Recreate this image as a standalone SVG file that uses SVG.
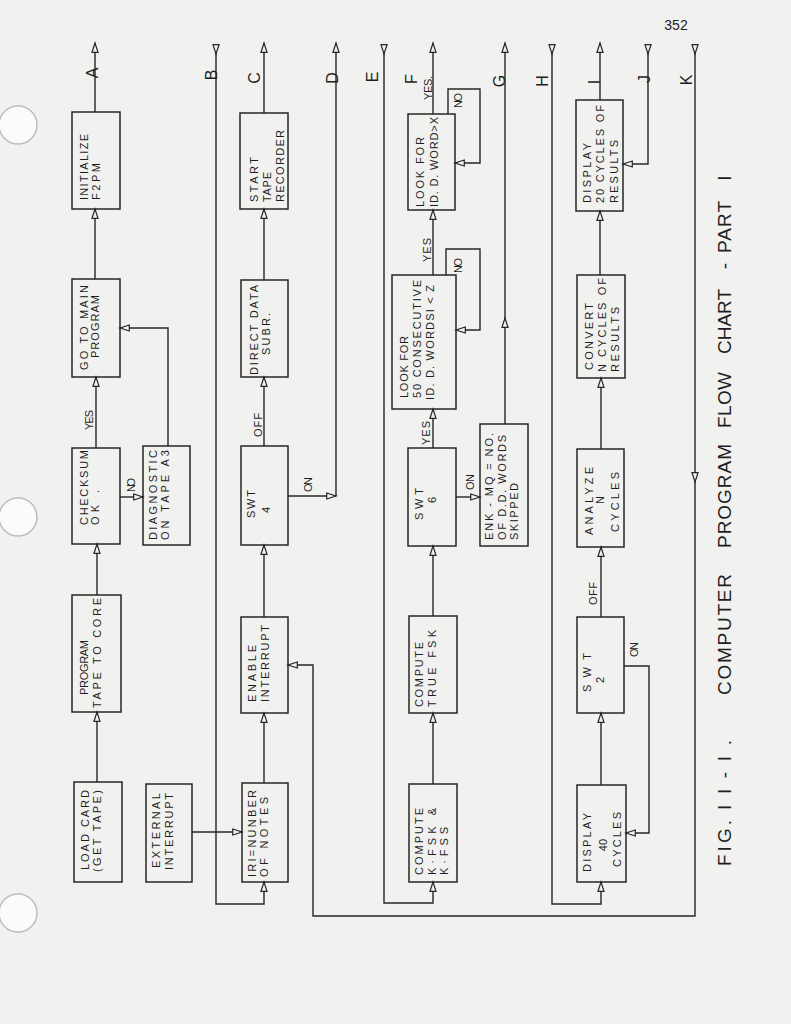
<svg xmlns="http://www.w3.org/2000/svg" width="791" height="1024" viewBox="0 0 791 1024">
<style>
.bg{fill:#f1f1ef}
.box{fill:none;stroke:#262626;stroke-width:1.5}
.ln{fill:none;stroke:#262626;stroke-width:1.4}
.ar{marker-end:url(#ah)}
.t{font-family:"Liberation Sans",Arial,sans-serif;font-size:11px;fill:#1e1e1e}
.lb{font-family:"Liberation Sans",Arial,sans-serif;font-size:11px;fill:#1e1e1e}
.lt{font-family:"Liberation Sans",Arial,sans-serif;font-size:16px;fill:#1e1e1e;text-anchor:middle}
.cap{font-family:"Liberation Sans",Arial,sans-serif;font-size:19px;fill:#1e1e1e}
.m{text-anchor:middle}
.hole{fill:#fbfbfa;stroke:#bdbdbd;stroke-width:1.5}
</style>
<defs>
<marker id="ah" markerUnits="userSpaceOnUse" markerWidth="12" markerHeight="8" refX="10" refY="3.5" orient="auto" overflow="visible"><path d="M0.7,0.5 L10,3.5 L0.7,6.5 Z" fill="#f1f1ef" stroke="#262626" stroke-width="1.2"/></marker>
<marker id="ai" markerUnits="userSpaceOnUse" markerWidth="12" markerHeight="8" refX="0" refY="3.5" orient="auto" overflow="visible"><path d="M0.7,0.5 L10,3.5 L0.7,6.5 Z" fill="#f1f1ef" stroke="#262626" stroke-width="1.2"/></marker>
</defs>
<rect class="bg" x="0" y="0" width="791" height="1024"/>
<circle class="hole" cx="18" cy="125" r="19"/>
<circle class="hole" cx="18" cy="517" r="19"/>
<circle class="hole" cx="18" cy="913" r="19"/>
<text x="676" y="30" style="font-family:'Liberation Sans',Arial,sans-serif;font-size:14px;fill:#222;text-anchor:middle">352</text>

<g id="connectors">
<path class="ln ar" d="M97,782 V712"/>
<path class="ln ar" d="M97,595 V544"/>
<path class="ln ar" d="M96,448 V377"/>
<path class="ln ar" d="M120,497 H143"/>
<path class="ln ar" d="M168,446 V328 H120"/>
<path class="ln ar" d="M95,279 V209"/>
<path class="ln ar" d="M95,112 V43"/>
<path class="ln ar" d="M192,832 H242"/>
<path class="ln ar" d="M216,44 V904 H264 V882" marker-start="url(#ai)"/>
<path class="ln ar" d="M264,783 V713"/>
<path class="ln ar" d="M264,617 V545"/>
<path class="ln ar" d="M264,446 V377"/>
<path class="ln ar" d="M264,280 V209"/>
<path class="ln ar" d="M264,113 V43"/>
<path class="ln ar" d="M288,496 H336"/>
<path class="ln ar" d="M336,496 V43"/>
<path class="ln ar" d="M695,44 V482" marker-start="url(#ai)"/>
<path class="ln ar" d="M695,482 V916 H313 V665 H288"/>
<path class="ln ar" d="M384,44 V903 H433 V882" marker-start="url(#ai)"/>
<path class="ln ar" d="M433,784 V713"/>
<path class="ln ar" d="M433,616 V546"/>
<path class="ln ar" d="M433,448 V409"/>
<path class="ln ar" d="M456,497 H480"/>
<path class="ln ar" d="M446,275 V249 H480 V330 H456"/>
<path class="ln ar" d="M433,275 V210"/>
<path class="ln ar" d="M448,114 V89 H480 V163 H455"/>
<path class="ln ar" d="M433,114 V43"/>
<path class="ln ar" d="M505,424 V318"/>
<path class="ln ar" d="M505,318 V43"/>
<path class="ln ar" d="M552,44 V904 H601 V882" marker-start="url(#ai)"/>
<path class="ln ar" d="M601,785 V713"/>
<path class="ln ar" d="M624,666 H649 V833 H626"/>
<path class="ln ar" d="M601,617 V547"/>
<path class="ln ar" d="M601,449 V378"/>
<path class="ln ar" d="M600,275 V211"/>
<path class="ln ar" d="M600,100 V43"/>
<path class="ln ar" d="M648,44 V164 H623" marker-start="url(#ai)"/>
<text class="lb" transform="translate(93,430) rotate(-90)" textLength="20">YES</text>
<text class="lb" transform="translate(135,492) rotate(-90)" textLength="14">NO</text>
<text class="lb" transform="translate(262,437) rotate(-90)" textLength="24">OFF</text>
<text class="lb" transform="translate(312,492) rotate(-90)" textLength="15">ON</text>
<text class="lb" transform="translate(430,445) rotate(-90)" textLength="24">YES</text>
<text class="lb" transform="translate(474,490) rotate(-90)" textLength="16">ON</text>
<text class="lb" transform="translate(462,273) rotate(-90)" textLength="15">NO</text>
<text class="lb" transform="translate(431,262) rotate(-90)" textLength="24">YES</text>
<text class="lb" transform="translate(462,108) rotate(-90)" textLength="15">NO</text>
<text class="lb" transform="translate(432,100) rotate(-90)" textLength="24">YES.</text>
<text class="lb" transform="translate(638,657) rotate(-90)" textLength="15">ON</text>
<text class="lb" transform="translate(597,605) rotate(-90)" textLength="23">OFF</text>
<text class="lt" transform="translate(98,73) rotate(-90)">A</text>
<text class="lt" transform="translate(217,75) rotate(-90)">B</text>
<text class="lt" transform="translate(260,78) rotate(-90)">C</text>
<text class="lt" transform="translate(338,78) rotate(-90)">D</text>
<text class="lt" transform="translate(378,77) rotate(-90)">E</text>
<text class="lt" transform="translate(417,79) rotate(-90)">F</text>
<text class="lt" transform="translate(505,81) rotate(-90)">G</text>
<text class="lt" transform="translate(548,81) rotate(-90)">H</text>
<text class="lt" transform="translate(600,82) rotate(-90)">I</text>
<text class="lt" transform="translate(650,79) rotate(-90)">J</text>
<text class="lt" transform="translate(692,80) rotate(-90)">K</text>
</g>

<g id="n_load"><rect class="box" x="74" y="782" width="48" height="100"/>
<text class="t" transform="translate(89,870) rotate(-90)" textLength="80">LOAD CARD</text>
<text class="t" transform="translate(101,872) rotate(-90)" textLength="82">(GET TAPE)</text></g>
<g id="n_program"><rect class="box" x="72" y="595" width="49" height="117"/>
<text class="t" transform="translate(88,695) rotate(-90)" textLength="55">PROGRAM</text>
<text class="t" transform="translate(101,708) rotate(-90)" textLength="110">TAPE TO CORE</text></g>
<g id="n_checksum"><rect class="box" x="72" y="448" width="48" height="96"/>
<text class="t" transform="translate(88,525) rotate(-90)" textLength="75">CHECKSUM</text>
<text class="t" transform="translate(99,525) rotate(-90)" textLength="35">OK .</text></g>
<g id="n_gotomain"><rect class="box" x="72" y="279" width="48" height="98"/>
<text class="t" transform="translate(88,370) rotate(-90)" textLength="85">GO TO MAIN</text>
<text class="t" transform="translate(99,358) rotate(-90)" textLength="63">PROGRAM</text></g>
<g id="n_init"><rect class="box" x="72" y="112" width="48" height="97"/>
<text class="t" transform="translate(88,200) rotate(-90)" textLength="66">INITIALIZE</text>
<text class="t" transform="translate(100,200) rotate(-90)" textLength="37">F2PM</text></g>
<g id="n_external"><rect class="box" x="146" y="784" width="46" height="98"/>
<text class="t" transform="translate(160,868) rotate(-90)" textLength="75">EXTERNAL</text>
<text class="t" transform="translate(173,870) rotate(-90)" textLength="77">INTERRUPT</text></g>
<g id="n_diag"><rect class="box" x="143" y="446" width="47" height="99"/>
<text class="t" transform="translate(157,540) rotate(-90)" textLength="90">DIAGNOSTIC</text>
<text class="t" transform="translate(169,540) rotate(-90)" textLength="90">ON TAPE A3</text></g>
<g id="n_iri"><rect class="box" x="242" y="783" width="46" height="99"/>
<text class="t" transform="translate(256,877) rotate(-90)" textLength="87">IRI=NUNBER</text>
<text class="t" transform="translate(268,877) rotate(-90)" textLength="80">OF NOTES</text></g>
<g id="n_enable"><rect class="box" x="241" y="617" width="47" height="96"/>
<text class="t" transform="translate(256,702) rotate(-90)" textLength="57">ENABLE</text>
<text class="t" transform="translate(269,702) rotate(-90)" textLength="77">INTERRUPT</text></g>
<g id="n_swt4"><rect class="box" x="241" y="446" width="47" height="99"/>
<text class="t" transform="translate(255,518) rotate(-90)" textLength="28">SWT</text>
<text class="t m" transform="translate(270,510) rotate(-90)">4</text></g>
<g id="n_direct"><rect class="box" x="241" y="280" width="47" height="97"/>
<text class="t" transform="translate(258,375) rotate(-90)" textLength="90">DIRECT DATA</text>
<text class="t" transform="translate(270,355) rotate(-90)" textLength="42">SUBR.</text></g>
<g id="n_start"><rect class="box" x="240" y="113" width="48" height="96"/>
<text class="t" transform="translate(258,202) rotate(-90)" textLength="45">START</text>
<text class="t" transform="translate(271,202) rotate(-90)" textLength="30">TAPE</text>
<text class="t" transform="translate(284,202) rotate(-90)" textLength="72">RECORDER</text></g>
<g id="n_kfsk"><rect class="box" x="409" y="784" width="48" height="98"/>
<text class="t" transform="translate(423,875) rotate(-90)" textLength="67">COMPUTE</text>
<text class="t" transform="translate(436,875) rotate(-90)" textLength="67">K·FSK &amp;</text>
<text class="t" transform="translate(448,875) rotate(-90)" textLength="48">K·FSS</text></g>
<g id="n_truefsk"><rect class="box" x="409" y="616" width="48" height="97"/>
<text class="t" transform="translate(423,707) rotate(-90)" textLength="65">COMPUTE</text>
<text class="t" transform="translate(436,707) rotate(-90)" textLength="77">TRUE FSK</text></g>
<g id="n_swt6"><rect class="box" x="408" y="448" width="48" height="98"/>
<text class="t" transform="translate(423,520) rotate(-90)" textLength="32">SWT</text>
<text class="t m" transform="translate(436,500) rotate(-90)">6</text></g>
<g id="n_look50"><rect class="box" x="392" y="275" width="64" height="134"/>
<text class="t" transform="translate(408,398) rotate(-90)" textLength="62">LOOK FOR</text>
<text class="t" transform="translate(421,398) rotate(-90)" textLength="118">50 CONSECUTIVE</text>
<text class="t" transform="translate(434,400) rotate(-90)" textLength="115">ID. D. WORDSI &lt; Z</text></g>
<g id="n_lookid"><rect class="box" x="408" y="114" width="47" height="96"/>
<text class="t" transform="translate(424,207) rotate(-90)" textLength="70">LOOK FOR</text>
<text class="t" transform="translate(438,207) rotate(-90)" textLength="90">ID. D. WORD&gt;X</text></g>
<g id="n_enk"><rect class="box" x="480" y="424" width="48" height="122"/>
<text class="t" transform="translate(493,540) rotate(-90)" textLength="107">ENK - MQ = NO.</text>
<text class="t" transform="translate(506,540) rotate(-90)" textLength="105">OF D.D. WORDS</text>
<text class="t" transform="translate(518,540) rotate(-90)" textLength="57">SKIPPED</text></g>
<g id="n_disp40"><rect class="box" x="577" y="785" width="49" height="97"/>
<text class="t" transform="translate(591,872) rotate(-90)" textLength="59">DISPLAY</text>
<text class="t m" transform="translate(607,845) rotate(-90)">40</text>
<text class="t" transform="translate(621,867) rotate(-90)" textLength="55">CYCLES</text></g>
<g id="n_swt2"><rect class="box" x="577" y="617" width="47" height="96"/>
<text class="t" transform="translate(591,692) rotate(-90)" textLength="39">SWT</text>
<text class="t m" transform="translate(604,680) rotate(-90)">2</text></g>
<g id="n_analyze"><rect class="box" x="577" y="449" width="47" height="98"/>
<text class="t" transform="translate(593,535) rotate(-90)" textLength="68">ANALYZE</text>
<text class="t m" transform="translate(604,500) rotate(-90)">N</text>
<text class="t" transform="translate(619,532) rotate(-90)" textLength="60">CYCLES</text></g>
<g id="n_convert"><rect class="box" x="577" y="275" width="48" height="103"/>
<text class="t" transform="translate(593,370) rotate(-90)" textLength="67">CONVERT</text>
<text class="t" transform="translate(606,372) rotate(-90)" textLength="94">N CYCLES OF</text>
<text class="t" transform="translate(619,372) rotate(-90)" textLength="65">RESULTS</text></g>
<g id="n_disp20"><rect class="box" x="576" y="100" width="47" height="111"/>
<text class="t" transform="translate(591,203) rotate(-90)" textLength="60">DISPLAY</text>
<text class="t" transform="translate(604,203) rotate(-90)" textLength="98">20 CYCLES OF</text>
<text class="t" transform="translate(618,203) rotate(-90)" textLength="63">RESULTS</text></g>

<g id="caption">
<text class="cap" transform="translate(731,866) rotate(-90)" textLength="46">FIG.</text>
<text class="cap" transform="translate(731,810) rotate(-90)" textLength="70">II-I.</text>
<text class="cap" transform="translate(731,695) rotate(-90)" textLength="121">COMPUTER</text>
<text class="cap" transform="translate(731,548) rotate(-90)" textLength="104">PROGRAM</text>
<text class="cap" transform="translate(731,428) rotate(-90)" textLength="56">FLOW</text>
<text class="cap" transform="translate(731,354) rotate(-90)" textLength="65">CHART</text>
<text class="cap m" transform="translate(731,266) rotate(-90)">-</text>
<text class="cap" transform="translate(731,253) rotate(-90)" textLength="52">PART</text>
<text class="cap m" transform="translate(731,178) rotate(-90)">I</text>
</g>
</svg>
